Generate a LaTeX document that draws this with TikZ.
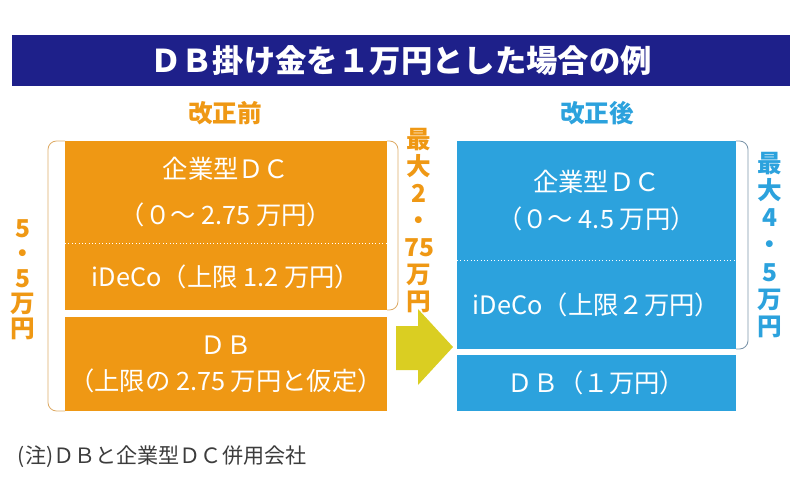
\documentclass[tikz,border=0pt]{standalone}
\usepackage{fontspec}
\setmainfont{Noto Sans CJK JP}
\usetikzlibrary{positioning}
\definecolor{mnavy}{RGB}{30,32,138}
\definecolor{morange}{RGB}{239,152,20}
\definecolor{mblue}{RGB}{44,162,221}
\definecolor{marrow}{RGB}{218,206,34}
\definecolor{mgray}{RGB}{60,60,60}
\definecolor{obracket}{RGB}{222,172,105}
\definecolor{bbracket}{RGB}{125,150,170}
\tikzset{oldbox/.style = {fill=morange, text=white, inner sep=0, outer sep=0, align=center,
                          minimum width=322*0.025cm}}
\tikzset{newbox/.style = {fill=mblue, text=white, inner sep=0, outer sep=0, align=center,
                          minimum width=279*0.025cm}}
\tikzset{vlabel/.style = {align=center, inner sep=0, font=\bfseries\fontsize{17.5}{17.7}\selectfont}}
\tikzset{divline/.style = {white, dotted, line width=0.4pt}}

\begin{document}
\begin{tikzpicture}[x=0.025cm, y=-0.025cm]
          \useasboundingbox (0,0) rectangle (800,500);
          \node [fill=mnavy, text=white, minimum width=778*0.025cm, minimum height=51*0.025cm,
                 font=\bfseries\fontsize{22.3}{24}\selectfont] (title) at (401,60.5)
                {ＤＢ掛け金を１万円とした場合の例};
          \node [text=morange, font=\bfseries\fontsize{17.5}{20}\selectfont] (before) at (225,113) {改正前};
          \node [text=mblue, font=\bfseries\fontsize{17.5}{20}\selectfont] (after) at (597,113) {改正後};

          \node [oldbox, minimum height=102*0.025cm, font=\fontsize{18}{32.6}\selectfont] (dcold) at (226,192)
                {企業型ＤＣ\\（０～ 2.75 万円）};
          \node [oldbox, minimum height=67*0.025cm, font=\fontsize{18}{24}\selectfont, below=0pt of dcold] (idecoold)
                {iDeCo（上限 1.2 万円）};
          \node [oldbox, minimum height=94*0.025cm, font=\fontsize{18}{25.5}\selectfont, below=7*0.025cm of idecoold] (dbold)
                {ＤＢ\\（上限の 2.75 万円と仮定）};
          \draw [divline] (dcold.south west) -- (dcold.south east);

          \node [newbox, minimum height=119*0.025cm, font=\fontsize{18}{26.2}\selectfont] (dcnew) at (596.5,200.5)
                {企業型ＤＣ\\（０～ 4.5 万円）};
          \node [newbox, minimum height=89*0.025cm, font=\fontsize{18}{24}\selectfont, below=0pt of dcnew] (idecnew)
                {iDeCo（上限２万円）};
          \node [newbox, minimum height=56*0.025cm, font=\fontsize{18}{24}\selectfont, below=6*0.025cm of idecnew] (dbnew)
                {ＤＢ（１万円）};
          \draw [divline] (dcnew.south west) -- (dcnew.south east);

          % brackets
          \draw [obracket, line width=0.6pt, rounded corners=6pt] (dcold.north west) -- ++(-17,0) |- (dbold.south west);
          \draw [obracket, line width=0.6pt, rounded corners=6pt] (dcold.north east) -- ++(11,0) |- (idecoold.south east);
          \draw [bbracket, line width=0.6pt, rounded corners=6pt] (dcnew.north east) -- ++(12,0) |- (idecnew.south east);

          \node [vlabel, text=morange] (sumold) at (23,280) {5\\・\\5\\万\\円};
          \node [vlabel, text=morange, font=\bfseries\fontsize{17.5}{19.2}\selectfont] (maxold) at (419,221)
                {最\\大\\2\\・\\75\\万\\円};
          \node [vlabel, text=mblue, font=\bfseries\fontsize{17.5}{19.4}\selectfont] (maxnew) at (770,245)
                {最\\大\\4\\・\\5\\万\\円};

          % arrow
          \fill [marrow] (396,326) -- (418,326) -- (418,309) -- (453,347) -- (418,385) -- (418,370) -- (396,370) -- cycle;

          \node [anchor=west, text=mgray, font=\fontsize{15}{18}\selectfont] (note) at (13,457)
                {(注)ＤＢと企業型ＤＣ併用会社};
        \end{tikzpicture}
\end{document}
